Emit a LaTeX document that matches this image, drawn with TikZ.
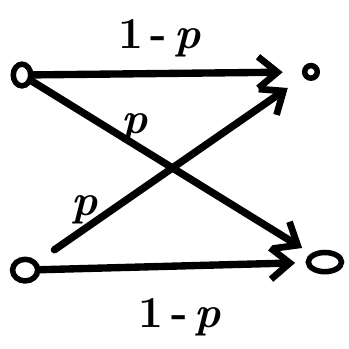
\documentclass[tikz,border=0pt]{standalone}
\usepackage{fontspec}
\usepackage{tikz}
\usetikzlibrary{positioning, arrows.meta, shapes.geometric, calc}

\begin{document}
\begin{tikzpicture}[
          dot/.style={draw, ellipse, line width=4.5pt, inner sep=0pt},
          arr/.style={-{Straight Barb[length=0.55cm, width=0.9cm, line width=5.5pt]},
                      line width=6pt, line cap=round},
          lbl/.style={font=\fontsize{36}{40}\selectfont\bfseries}]
        \useasboundingbox (0,0) rectangle (10,10);
        % inputs
        \node[dot, minimum width=0.5cm, minimum height=0.62cm] (in0) at (0.63, 7.85) {};
        \node[dot, minimum width=0.72cm, minimum height=0.62cm] (in1) at (0.72, 2.26) {};
        % outputs
        \node[dot, minimum width=0.36cm, minimum height=0.36cm] (out0) at (8.91, 7.94) {};
        \node[dot, minimum width=0.95cm, minimum height=0.55cm] (out1) at (9.31, 2.49) {};
        % channel
        \draw[arr, shorten >=0.55cm] (in0) -- (out0);
        \draw[arr, shorten >=0.3cm] (in0) -- (out1);
        \draw[arr, shorten <=0.6cm, shorten >=0.55cm] (in1) -- (out0);
        \draw[arr, shorten >=0.3cm] (in1) -- (out1);
        % labels
        \node[lbl] (ltop) at (4.58, 8.9) {1\,-\,\textit{p}};
        \node[lbl] (lx1) at (3.87, 6.35) {\textit{p}};
        \node[lbl] (lx2) at (2.44, 3.98) {\textit{p}};
        \node[lbl] (lbot) at (5.16, 0.9) {1\,-\,\textit{p}};
      \end{tikzpicture}
\end{document}
